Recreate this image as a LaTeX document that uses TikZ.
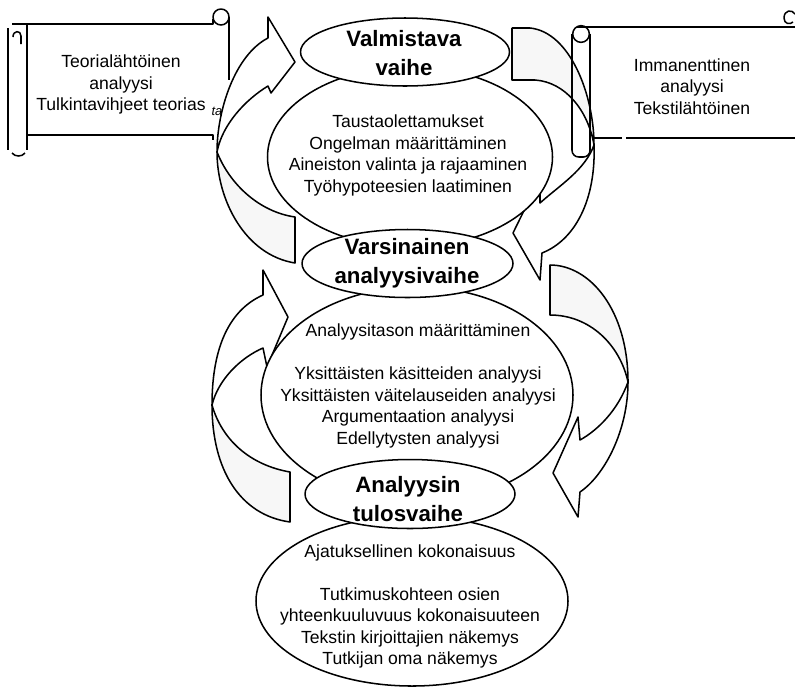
\documentclass[tikz,border=0pt]{standalone}
\usepackage{fontspec}
\setmainfont{Liberation Sans}
\usetikzlibrary{shapes.geometric}
\definecolor{backface}{gray}{0.97}

\begin{document}
\begin{tikzpicture}[x=0.03cm, y=-0.03cm, line width=1.3pt, line join=round,
  every node/.style={font=\fontsize{15}{18.3}\selectfont, align=center},
  phase/.style={font=\bfseries\fontsize{19}{24.5}\selectfont},
  oval/.style 2 args={ellipse, draw, fill=white, inner sep=0pt,
    minimum width=#1*0.06cm, minimum height=#2*0.06cm},
  front/.style={draw, fill=white},
  back/.style={draw, fill=backface}]
\useasboundingbox (0,0) rectangle (795,689);

% Left scroll
\draw (8,28) -- (8,150);
\draw (27,24) -- (27,150);
\draw (12,153) .. controls (15,157) and (22,157) .. (25,153);
\draw (13,37) .. controls (13,30) and (21,30) .. (21,36) -- (21,44);
\draw (12,24) -- (213,24) -- (213,19);
\draw (27,135) -- (213,135) -- (213,140);
\draw (221,17) circle[radius=0.24cm];
\draw (229,17) -- (229,80);

% Arrow into the preparatory phase
\draw[back] (217,152) .. controls (217,200) and (245,255) .. (295,263) -- (295,217)
  .. controls (260,212) and (230,185) .. (217,152) -- cycle;
\draw[front] (268,38) .. controls (235,55) and (217,110) .. (217,152)
  .. controls (222,125) and (245,100) .. (268,86) -- (271,93) -- (295,62) -- (268,17) -- cycle;

% Arrow from the preparatory phase
\draw[back] (512,28) -- (530,28) .. controls (570,32) and (594,95) .. (594,145)
  .. controls (588,110) and (565,82) .. (535,80) -- (512,80) -- cycle;
\draw[front] (594,145) .. controls (596,200) and (575,240) .. (542,253) -- (540,280) -- (513,233)
  -- (540,178) -- (540,203) .. controls (560,185) and (585,170) .. (594,145) -- cycle;

% Arrow into the analysis phase
\draw[back] (212,405) .. controls (212,470) and (240,515) .. (290,522) -- (290,472)
  .. controls (250,465) and (222,440) .. (212,405) -- cycle;
\draw[front] (263,295) .. controls (225,312) and (212,355) .. (212,405)
  .. controls (218,380) and (240,358) .. (263,348) -- (267,367) -- (288,317) -- (263,270) -- cycle;

% Arrow from the analysis phase
\draw[back] (550,265) .. controls (590,265) and (628,310) .. (628,382)
  .. controls (620,345) and (590,315) .. (550,315) -- cycle;
\draw[front] (628,382) .. controls (628,430) and (605,475) .. (580,492) -- (578,517) -- (553,473)
  -- (578,417) -- (580,440) .. controls (598,430) and (618,410) .. (628,382) -- cycle;

% Right scroll
\draw (577,27) -- (795,27);
\draw (795,14) .. controls (792,9) and (784,10) .. (784,18) .. controls (784,24) and (790,25) .. (793,22);
\draw (581,34) circle[radius=0.25cm];
\draw[rounded corners=0.2cm] (572,34) -- (572,157) -- (590,157) -- (590,34);
\draw (592,138) -- (622,138) (626,138) -- (795,138);

% Phase ovals
\node[oval={142.5}{90}] (prep) at (410,157) {};
\node[oval={156}{108}] (analysis) at (417,395) {};
\node[oval={156}{85}] (result) at (412,601) {};
\node[oval={104.5}{34}] (prephead) at (405,52) {};
\node[oval={105.5}{34}] (analysishead) at (407.5,263.5) {};
\node[oval={105}{34.5}] (resulthead) at (410,494) {};

% Texts
\node (theory) at (121,84.5) {Teorialähtöinen\\analyysi\\Tulkintavihjeet teorias};
\node[font=\fontsize{11}{13}\selectfont\itshape, inner sep=0pt] (theorytail) at (217,111) {ta};
\node (immanent) at (692,86.5) {Immanenttinen\\analyysi\\Tekstilähtöinen};

\node[phase] (prepname) at (404,53) {Valmistava\\vaihe};
\node (preptext) at (408,155.5) {Taustaolettamukset\\Ongelman määrittäminen\\Aineiston valinta ja rajaaminen\\Työhypoteesien laatiminen};

\node[phase] (analysisname) at (407,263) {Varsinainen\\analyysivaihe};
\node (analysistext) at (418,386) {Analyysitason määrittäminen\\[18.3pt]Yksittäisten käsitteiden analyysi\\Yksittäisten väitelauseiden analyysi\\Argumentaation analyysi\\Edellytysten analyysi};

\node[phase] (resultname) at (408,499) {Analyysin\\tulosvaihe};
\node (resulttext) at (410,606.5) {Ajatuksellinen kokonaisuus\\[18.3pt]Tutkimuskohteen osien\\yhteenkuuluvuus kokonaisuuteen\\Tekstin kirjoittajien näkemys\\Tutkijan oma näkemys};
\end{tikzpicture}
\end{document}
